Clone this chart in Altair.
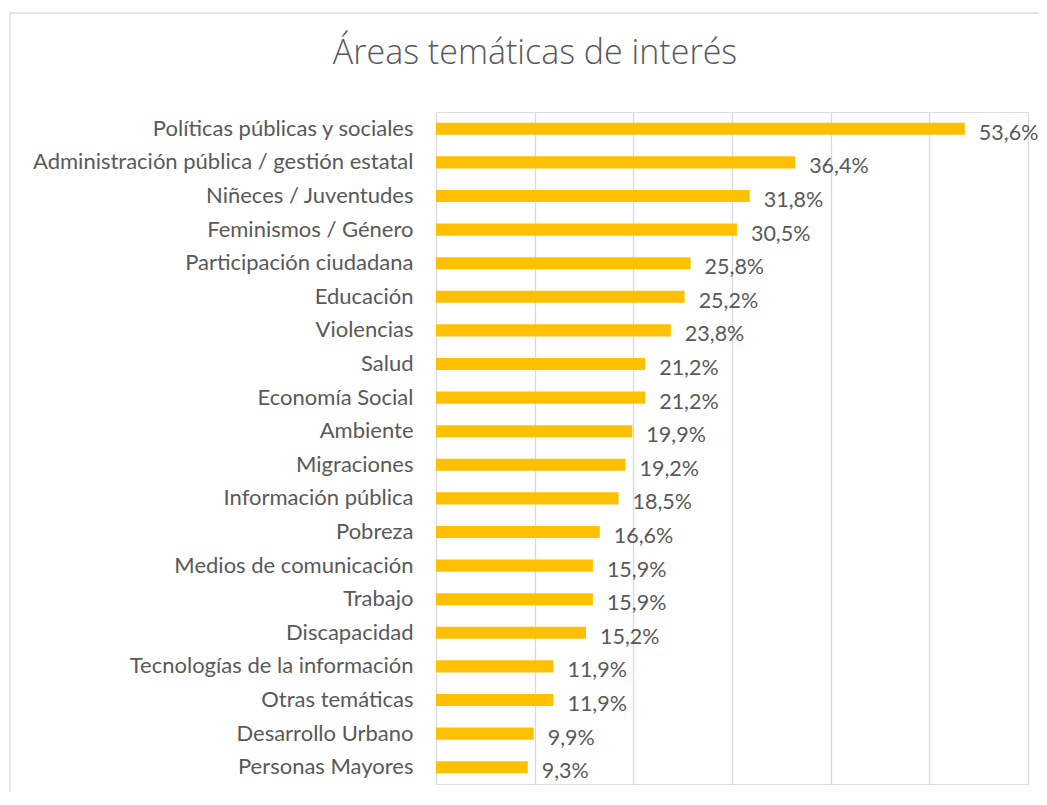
import altair as alt
import pandas as pd

categories = [
    "Políticas públicas y sociales",
    "Administración pública / gestión estatal",
    "Niñeces / Juventudes",
    "Feminismos / Género",
    "Participación ciudadana",
    "Educación",
    "Violencias",
    "Salud",
    "Economía Social",
    "Ambiente",
    "Migraciones",
    "Información pública",
    "Pobreza",
    "Medios de comunicación",
    "Trabajo",
    "Discapacidad",
    "Tecnologías de la información",
    "Otras temáticas",
    "Desarrollo Urbano",
    "Personas Mayores",
]
values = [53.6, 36.4, 31.8, 30.5, 25.8, 25.2, 23.8, 21.2, 21.2, 19.9,
          19.2, 18.5, 16.6, 15.9, 15.9, 15.2, 11.9, 11.9, 9.9, 9.3]
title_text = "Áreas temáticas de interés"

df = pd.DataFrame({"cat": categories, "v": values})

FONT = "Lato"
GRAY = "#595959"

base = alt.Chart(df).transform_calculate(
    lab="replace(format(datum.v, '.1f'), '.', ',') + '%'"
)

y_enc = alt.Y(
    "cat:N",
    sort=None,
    title=None,
    scale=alt.Scale(paddingInner=0.64, paddingOuter=0.32),
    axis=alt.Axis(
        ticks=False,
        domain=False,
        labelPadding=23,
        labelFontSize=22,
        labelColor=GRAY,
        labelFont=FONT,
        labelLimit=500,
    ),
)

bars = base.mark_bar(color="#FFC000").encode(
    x=alt.X(
        "v:Q",
        title=None,
        scale=alt.Scale(domain=[0, 60], nice=False),
        axis=alt.Axis(
            values=[0, 10, 20, 30, 40, 50, 60],
            labels=False,
            ticks=False,
            domain=False,
            grid=True,
            gridColor="#d9d9d9",
            gridWidth=1.3,
        ),
    ),
    y=y_enc,
)

texts = base.mark_text(
    align="left", baseline="middle", dx=14, dy=5,
    fontSize=21.5, color=GRAY, font=FONT
).encode(x="v:Q", y=alt.Y("cat:N", sort=None), text="lab:N")

frame = alt.Chart(pd.DataFrame({"a": [0]})).mark_rect(
    fill="transparent", stroke="#d9d9d9", strokeWidth=1.3
).encode(
    x=alt.value(-426), x2=alt.value(800),
    y=alt.value(-99), y2=alt.value(800),
)

chart = alt.layer(frame, bars, texts).properties(
    width=592,
    height=672,
    title=alt.TitleParams(
        title_text,
        fontSize=34,
        font="Open Sans",
        fontWeight=300,
        color=GRAY,
        anchor="middle",
        frame="group",
        baseline="alphabetic",
        dx=-197,
        dy=86,
        offset=0,
    ),
    autosize=alt.AutoSizeParams(type="none"),
    padding={"left": 428, "top": 104, "right": 11, "bottom": 8},
).configure_view(stroke=None).configure(background="white")

chart.save("out.html", embed_options={"renderer": "svg", "actions": False})
